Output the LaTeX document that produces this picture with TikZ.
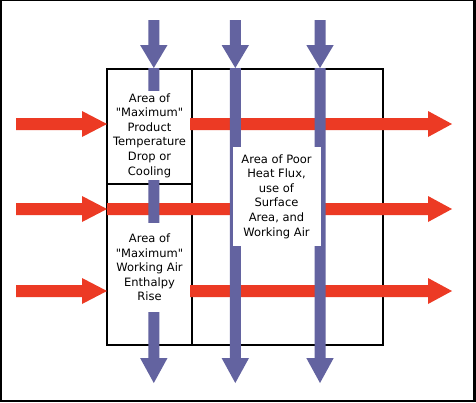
\documentclass[tikz,border=0pt]{standalone}
\usepackage{fontspec}
\setmainfont{DejaVu Sans}[Ligatures=TeXOff]
\definecolor{redc}{RGB}{236,58,36}
\definecolor{bluec}{RGB}{99,99,160}
\newcommand\redarrow[4]{\fill[redc,shift={(0,#4)}] (#1,-6) -- (#2,-6) -- (#2,-13) -- (#3,0) -- (#2,13) -- (#2,6) -- (#1,6) -- cycle;}
\newcommand\bluearrow[4]{\fill[bluec,shift={(#1,0)}] (-5.5,#2) -- (-5.5,#3) -- (-13.7,#3) -- (0,#4) -- (13.7,#3) -- (5.5,#3) -- (5.5,#2) -- cycle;}
\tikzset{
  label/.style={fill=white, inner sep=0pt, align=center,
    font=\fontsize{11.5}{14.6}\selectfont},
  boxline/.style={draw=black, line width=1.5pt}
}
\begin{document}
\begin{tikzpicture}[x=1pt,y=-1pt]
\useasboundingbox (0,0) rectangle (476,402);
\fill[black] (0,0) rectangle (476,402);
\fill[white] (2,1) rectangle (473,399.5);
% box
\draw[boxline] (107,69) rectangle (383,345);
\draw[boxline] (192,69) -- (192,345);
\draw[boxline] (107,184) -- (192,184);
% red arrows
\redarrow{16}{82}{107}{124}
\redarrow{16}{82}{107}{209}
\redarrow{16}{82}{107}{291}
\redarrow{189}{428}{452}{124}
\redarrow{107}{428}{452}{209}
\redarrow{189}{428}{452}{291}
% blue arrows
\bluearrow{153.8}{20}{45}{68}
\bluearrow{235.3}{20}{45}{68}
\bluearrow{320}{20}{45}{68}
\bluearrow{153.8}{68}{358}{383}
\bluearrow{235.3}{68}{358}{383}
\bluearrow{320}{68}{358}{383}
% labels
\node[label, minimum width=80, minimum height=89] (prod) at (149.5,135.5)
  {Area of\\"Maximum"\\Product\\Temperature\\Drop or\\Cooling};
\node[label, minimum width=80, minimum height=89] (air) at (149.5,267.5)
  {Area of\\"Maximum"\\Working Air\\Enthalpy\\Rise};
\node[label, minimum width=88, minimum height=99] (poor) at (276.5,196.5)
  {Area of Poor\\Heat Flux,\\use of\\Surface\\Area, and\\Working Air};
\end{tikzpicture}
\end{document}
